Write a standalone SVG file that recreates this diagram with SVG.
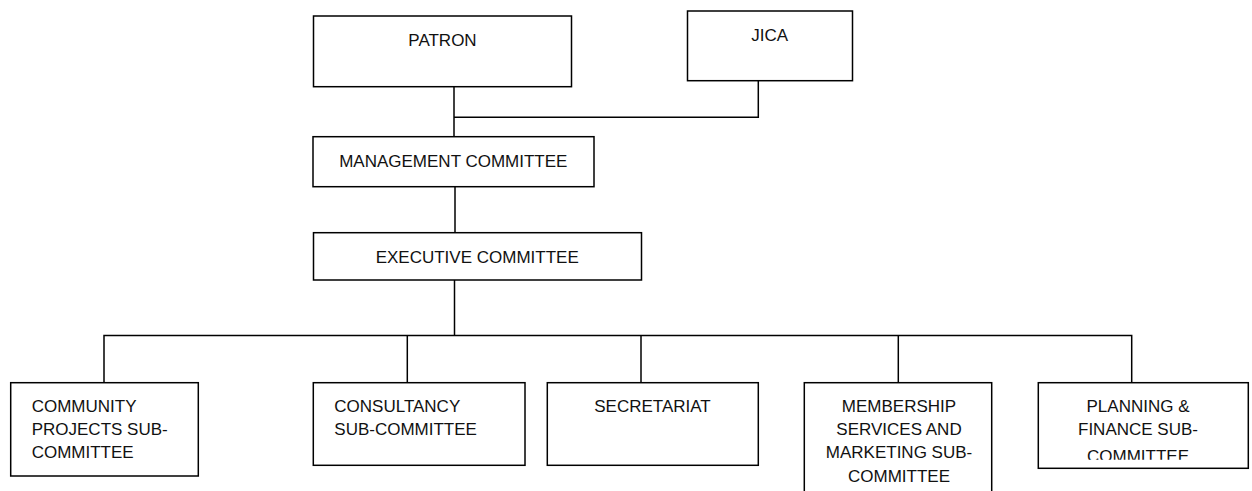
<svg xmlns="http://www.w3.org/2000/svg" width="1252" height="491" viewBox="0 0 1252 491">
<style>
.box{fill:#fff;stroke:#000;stroke-width:1.5}
.ln{fill:none;stroke:#000;stroke-width:1.5}
text{font-family:"Liberation Sans",Arial,sans-serif;font-size:17px;fill:#111}
.c{text-anchor:middle}
</style>
<defs>
<clipPath id="clipPlan"><rect x="1030" y="380" width="222" height="79.8"/></clipPath>
</defs>
<rect width="1252" height="491" fill="#fff"/>
<g id="connectors">
<path class="ln" d="M454 87 V137"/>
<path class="ln" d="M758.3 80.7 V117.3 H454"/>
<path class="ln" d="M455 186.7 V232.7"/>
<path class="ln" d="M454.5 280 V335.5"/>
<path class="ln" d="M104 382.7 V335.5 H1131.7 V382.7"/>
<path class="ln" d="M407.3 335.5 V382.7"/>
<path class="ln" d="M641 335.5 V382.7"/>
<path class="ln" d="M898.3 335.5 V382.7"/>
</g>
<g id="patron">
<rect class="box" x="313.5" y="16" width="258" height="70.7"/>
<text class="c" x="442.5" y="46">PATRON</text>
</g>
<g id="jica">
<rect class="box" x="687.5" y="11" width="165" height="69.7"/>
<text class="c" x="769.7" y="40.7">JICA</text>
</g>
<g id="management">
<rect class="box" x="313" y="136.7" width="281" height="50"/>
<text class="c" x="453.3" y="167.3">MANAGEMENT COMMITTEE</text>
</g>
<g id="executive">
<rect class="box" x="313.5" y="232.7" width="328" height="47.3"/>
<text class="c" x="477.2" y="262.7">EXECUTIVE COMMITTEE</text>
</g>
<g id="community">
<rect class="box" x="10.7" y="382.7" width="187.6" height="93.3"/>
<text x="31.7" y="411.7">COMMUNITY</text>
<text x="31.7" y="435">PROJECTS SUB-</text>
<text x="31.7" y="458.3">COMMITTEE</text>
</g>
<g id="consultancy">
<rect class="box" x="313.3" y="382.7" width="211.7" height="82.6"/>
<text x="334.3" y="411.7">CONSULTANCY</text>
<text x="334.3" y="435">SUB-COMMITTEE</text>
</g>
<g id="secretariat">
<rect class="box" x="547.3" y="382.7" width="211" height="82.6"/>
<text class="c" x="652.5" y="411.7">SECRETARIAT</text>
</g>
<g id="membership">
<rect class="box" x="804.3" y="382.7" width="187.4" height="115"/>
<text class="c" x="899" y="411.7">MEMBERSHIP</text>
<text class="c" x="899" y="435">SERVICES AND</text>
<text class="c" x="899" y="458.3">MARKETING SUB-</text>
<text class="c" x="899" y="481.7">COMMITTEE</text>
</g>
<g id="planning">
<rect class="box" x="1038.3" y="382.7" width="210" height="85.6"/>
<text class="c" x="1138" y="411.7">PLANNING &amp;</text>
<text class="c" x="1138" y="435">FINANCE SUB-</text>
<text class="c" x="1138" y="461.5" clip-path="url(#clipPlan)">COMMITTEE</text>
</g>
</svg>
